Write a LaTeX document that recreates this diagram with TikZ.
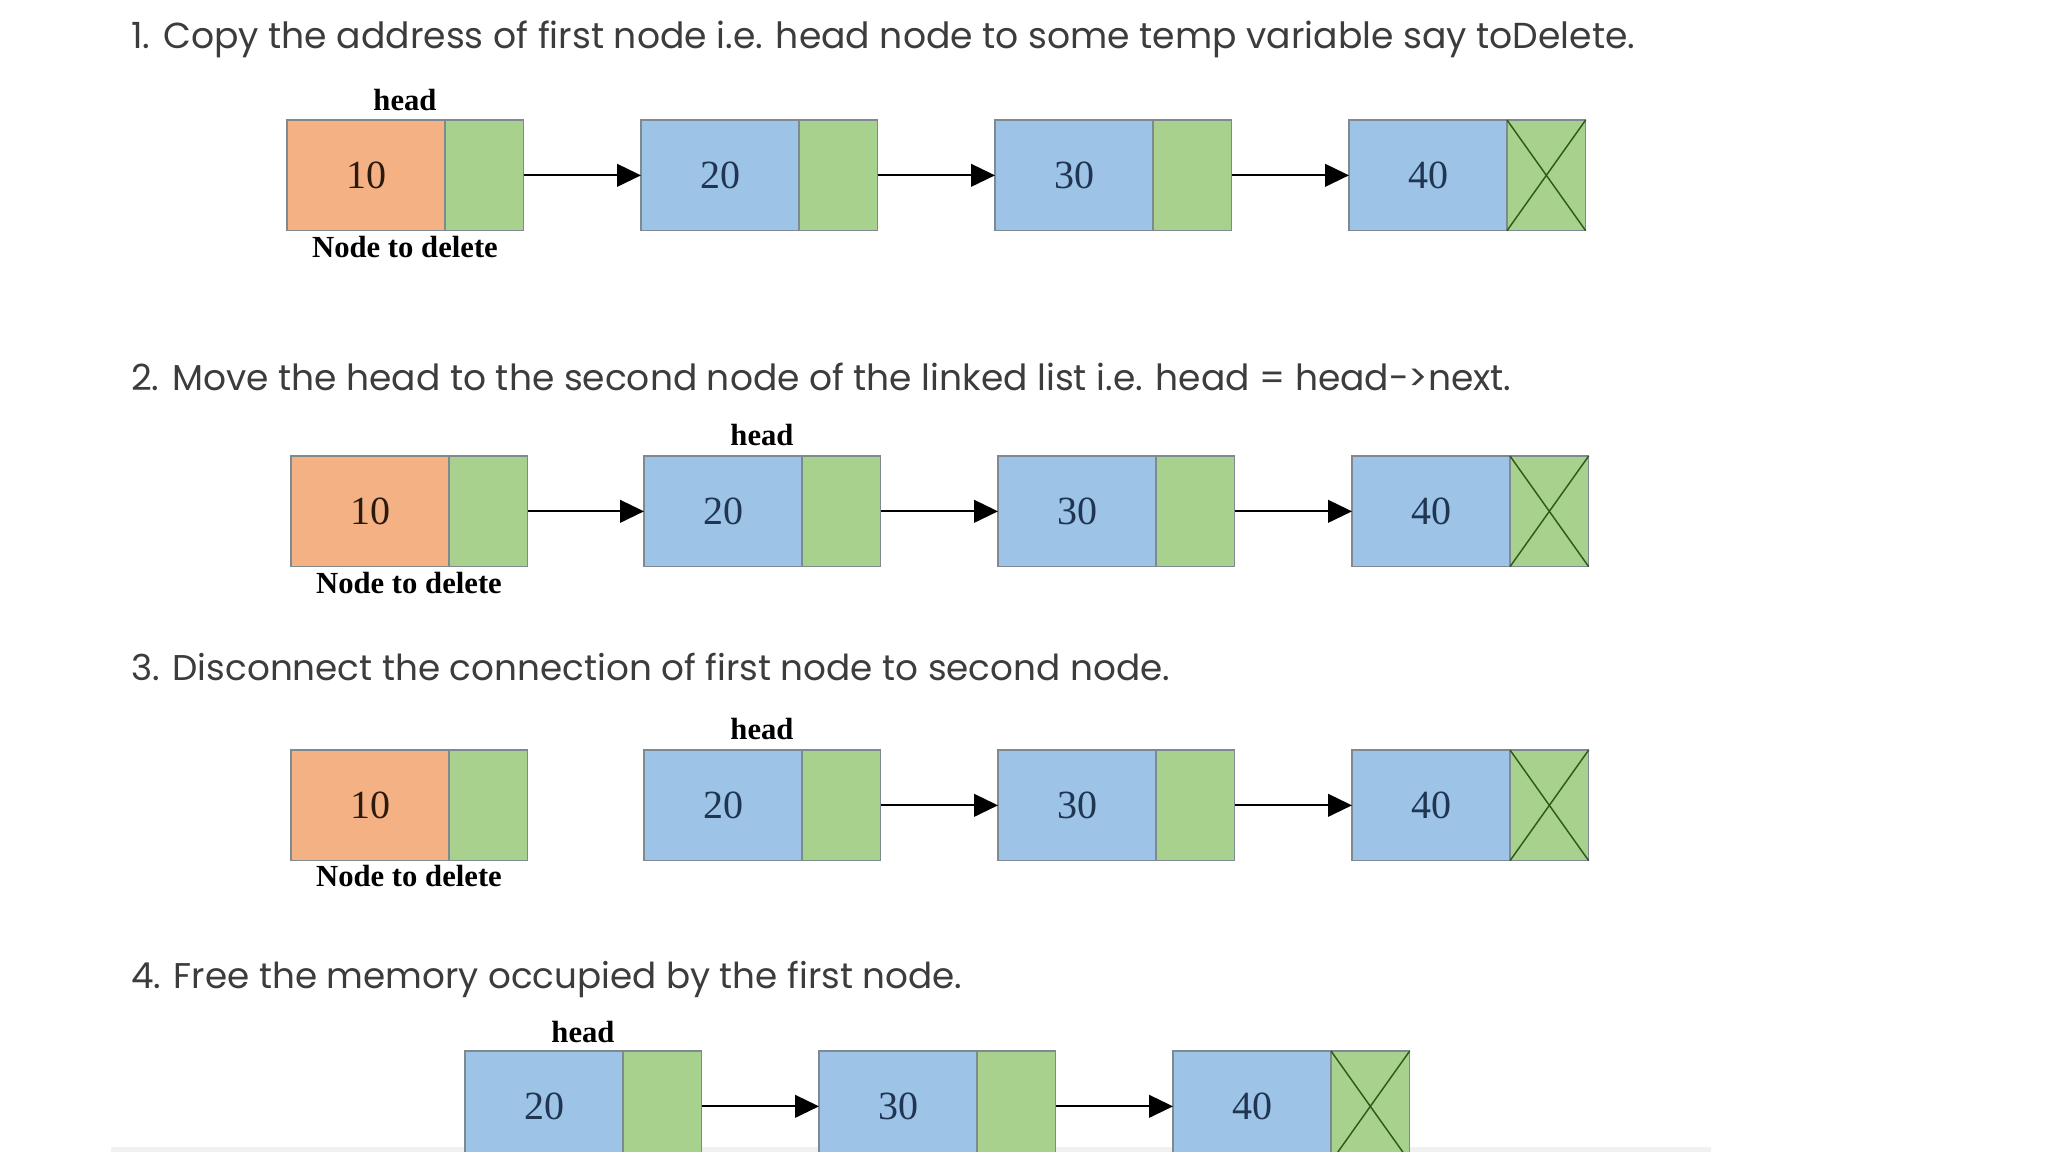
\documentclass[tikz,border=0pt]{standalone}
\usepackage{graphicx}
\usepackage{fontspec}
\setmainfont{Liberation Serif}
\newfontfamily\titlefont{Poppins}
\usetikzlibrary{arrows.meta}
\definecolor{orangefill}{HTML}{F4B183}
\definecolor{bluefill}{HTML}{9DC3E6}
\definecolor{greenfill}{HTML}{A9D18E}
\definecolor{boxline}{HTML}{7E8A90}
\definecolor{crossline}{HTML}{2E5A1C}
\definecolor{titlegray}{HTML}{3C3C3C}
\definecolor{numblue}{HTML}{1F3552}
\definecolor{numbrown}{HTML}{2B1A10}
\newcommand\listelem[5]{%
  \node[databox, #4] (#1d) at (#2,#3) {#5};
  \node[nextbox] (#1n) at (#1d.north east) {};}
\begin{document}
\begin{tikzpicture}[x=0.75pt,y=-0.75pt,
  databox/.style={draw=boxline, line width=0.9pt, inner sep=0pt, outer sep=0pt,
    minimum width=118.5pt, minimum height=83pt, anchor=north west,
    font=\fontsize{30}{33}\selectfont, text=numblue, fill=bluefill},
  headbox/.style={fill=orangefill, text=numbrown},
  nextbox/.style={draw=boxline, line width=0.9pt, inner sep=0pt, outer sep=0pt,
    minimum width=59pt, minimum height=83pt, anchor=north west, fill=greenfill},
  link/.style={line width=1.6pt, -{Triangle[length=18pt,width=17pt]}},
  nullcross/.style={draw=crossline, line width=1.1pt},
  lbl/.style={font=\bfseries\fontsize{23}{26}\selectfont, anchor=base, inner sep=0pt},
  steptext/.style={anchor=base west, inner sep=0pt, text=titlegray}]
\clip (0,0) rectangle (2048,1152);
\fill[white] (0,0) rectangle (2048,1152);
\fill[black!6] (111,1147) rectangle (1711,1152);

% Step 1
\node[steptext] (t1) at (131,49) {\resizebox{1128pt}{!}{\titlefont 1. Copy the address of first node i.e. head node to some temp variable say toDelete.}};
\listelem{ra}{287}{120}{headbox}{10}
\listelem{rb}{641}{120}{}{20}
\listelem{rc}{995}{120}{}{30}
\listelem{rd}{1349}{120}{}{40}
\draw[nullcross] (rdn.north west) -- (rdn.south east) (rdn.north east) -- (rdn.south west);
\draw[link] (ran.east) -- (rbd.west);
\draw[link] (rbn.east) -- (rcd.west);
\draw[link] (rcn.east) -- (rdd.west);
\node[lbl] (h1) at (405,111) {head};
\node[lbl] (del1) at (405,257) {Node to delete};

% Step 2
\node[steptext] (t2) at (131,390) {\resizebox{1035pt}{!}{\titlefont 2. Move the head to the second node of the linked list i.e. head = head->next.}};
\listelem{sa}{291}{456}{headbox}{10}
\listelem{sb}{644}{456}{}{20}
\listelem{sc}{998}{456}{}{30}
\listelem{sd}{1352}{456}{}{40}
\draw[nullcross] (sdn.north west) -- (sdn.south east) (sdn.north east) -- (sdn.south west);
\draw[link] (san.east) -- (sbd.west);
\draw[link] (sbn.east) -- (scd.west);
\draw[link] (scn.east) -- (sdd.west);
\node[lbl] (h2) at (762,445) {head};
\node[lbl] (del2) at (409,593) {Node to delete};

% Step 3
\node[steptext] (t3) at (131,680) {\resizebox{779pt}{!}{\titlefont 3. Disconnect the connection of first node to second node.}};
\listelem{ua}{291}{750}{headbox}{10}
\listelem{ub}{644}{750}{}{20}
\listelem{uc}{998}{750}{}{30}
\listelem{ud}{1352}{750}{}{40}
\draw[nullcross] (udn.north west) -- (udn.south east) (udn.north east) -- (udn.south west);
\draw[link] (ubn.east) -- (ucd.west);
\draw[link] (ucn.east) -- (udd.west);
\node[lbl] (h3) at (762,739) {head};
\node[lbl] (del3) at (409,886) {Node to delete};

% Step 4
\node[steptext] (t4) at (131,988) {\resizebox{623pt}{!}{\titlefont 4. Free the memory occupied by the first node.}};
\listelem{vb}{465}{1051}{}{20}
\listelem{vc}{819}{1051}{}{30}
\listelem{vd}{1173}{1051}{}{40}
\draw[nullcross] (vdn.north west) -- (vdn.south east) (vdn.north east) -- (vdn.south west);
\draw[link] (vbn.east) -- (vcd.west);
\draw[link] (vcn.east) -- (vdd.west);
\node[lbl] (h4) at (583,1042) {head};
\end{tikzpicture}
\end{document}
